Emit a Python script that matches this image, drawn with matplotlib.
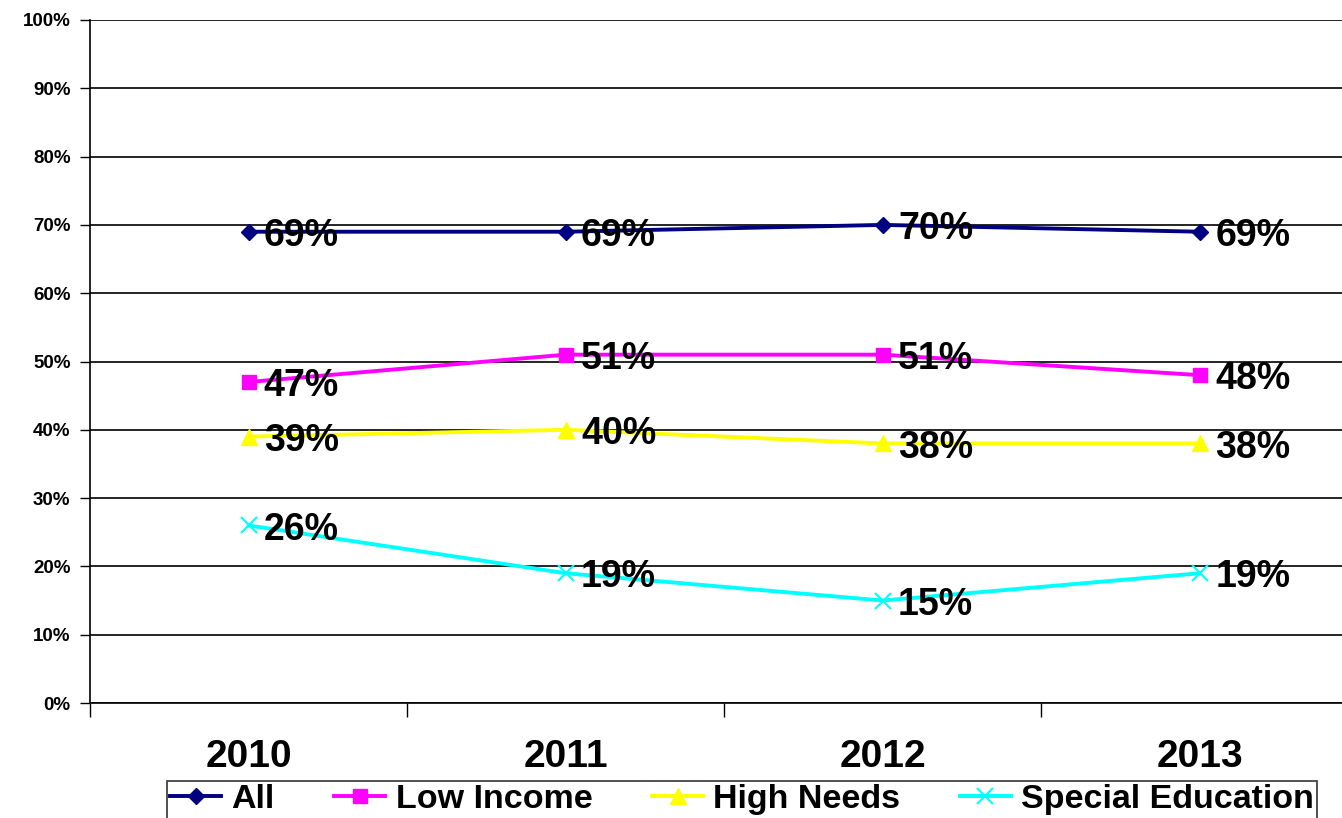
import matplotlib
matplotlib.use("Agg")
import matplotlib.pyplot as plt
from matplotlib.ticker import FixedLocator, FuncFormatter

plt.rcParams['font.family'] = ['Liberation Sans', 'DejaVu Sans']
plt.rcParams['font.weight'] = 'bold'

years = ["2010", "2011", "2012", "2013"]
all_students = [69, 69, 70, 69]
low_income = [47, 51, 51, 48]
high_needs = [39, 40, 38, 38]
special_ed = [26, 19, 15, 19]

series = [
    ("All", all_students, "#000080", "D", 8),
    ("Low Income", low_income, "#FF00FF", "s", 10),
    ("High Needs", high_needs, "#FFFF00", "^", 11),
    ("Special Education", special_ed, "#00FFFF", "x", 11),
]

W, H = 1342, 818
fig = plt.figure(figsize=(W / 100, H / 100), dpi=100)
left, bottom = 90, 115
ax = fig.add_axes([left / W, bottom / H, (1358.5 - left) / W, 683 / H])

x = list(range(len(years)))
handles = []
for name, vals, color, marker, ms in series:
    mew = 1.5 if marker == "x" else 1
    h, = ax.plot(x, vals, color=color, lw=2.8, marker=marker, ms=ms,
                 mew=mew, mec=color, mfc=color, label=name, zorder=3)
    handles.append(h)
    for xi, v in zip(x, vals):
        ax.annotate(f"{v}%", (xi, v), xytext=(11, -3), textcoords="offset points",
                    ha="left", va="center", fontsize=27, fontweight="bold",
                    color="black", zorder=4)

ax.set_xlim(-0.5, 3.5)
ax.set_ylim(0, 100)
ax.set_yticks(range(0, 101, 10))
ax.yaxis.set_major_formatter(FuncFormatter(lambda v, p: f"{int(v)}%"))
ax.grid(axis="y", color="black", lw=1.2, zorder=0)
ax.set_axisbelow(True)

ax.set_xticks(x)
ax.set_xticklabels(years, fontsize=28, fontweight="bold")
ax.xaxis.set_minor_locator(FixedLocator([-0.5, 0.5, 1.5, 2.5, 3.5]))
ax.tick_params(axis="x", which="major", length=0, pad=26)
ax.tick_params(axis="x", which="minor", length=10, width=1, direction="out")
ax.tick_params(axis="y", length=7, width=1, direction="out", labelsize=13.5, pad=7)
for lbl in ax.get_yticklabels():
    lbl.set_fontweight("bold")

for s in ("top", "right"):
    ax.spines[s].set_visible(False)
for s in ("left", "bottom"):
    ax.spines[s].set_color("black")
    ax.spines[s].set_linewidth(1.2)

leg = fig.legend(handles=handles, loc="upper left",
                 bbox_to_anchor=(167 / W, (H - 781) / H), ncol=4,
                 frameon=True, fancybox=False, edgecolor="black",
                 prop={"size": 24.5, "weight": "bold"},
                 handlelength=1.5, handletextpad=0.3, columnspacing=1.75,
                 borderpad=0.1, borderaxespad=0)
leg.get_frame().set_linewidth(1.2)

fig.savefig("out.png", dpi=100, facecolor="white")
